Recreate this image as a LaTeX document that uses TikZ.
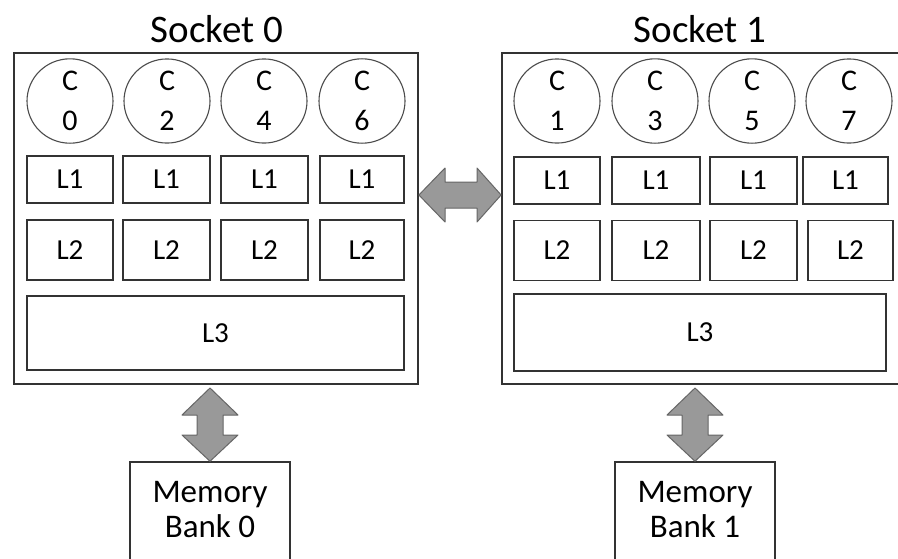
\documentclass[tikz,border=0pt]{standalone}
\usepackage{fontspec}
\setmainfont{Carlito}
\usetikzlibrary{shapes.geometric}
\begin{document}
\begin{tikzpicture}[x=1pt,y=-1pt,
  sockbox/.style={draw=black!80,line width=1.8pt,fill=white,rectangle,inner sep=0pt},
  cachebox/.style={draw=black!80,line width=1.5pt,fill=white,rectangle,inner sep=0pt,font=\fontsize{29}{31}\selectfont},
  corebox/.style={draw=black!70,line width=1.1pt,ellipse,inner sep=0pt,minimum width=86pt,minimum height=76pt,align=center,font=\fontsize{30}{40}\selectfont},
  membox/.style={draw=black!80,line width=1.5pt,fill=white,rectangle,inner sep=0pt,minimum width=160pt,minimum height=110pt},
  memtext/.style={font=\fontsize{33}{35}\selectfont,align=center,inner sep=0pt},
  bigarrow/.style={fill=black!40,draw=black!60,line width=1pt,line join=round},
  title/.style={font=\fontsize{39}{41}\selectfont,inner sep=0pt}
]
\useasboundingbox (0,0) rectangle (898,558);
\clip (0,0) rectangle (898,558);
\fill[white] (0,0) rectangle (898,558);
% sockets
\node[sockbox,minimum width=404pt,minimum height=331pt] (s0) at (216,218.5) {};
\node[sockbox,minimum width=404pt,minimum height=331pt] (s1) at (704,218.5) {};
\node[title] (t0) at (217,29) {Socket 0};
\node[title] (t1) at (700,29) {Socket 1};
% cores socket 0
\node[corebox] (c0) at (70,101) {C\\0};
\node[corebox] (c2) at (167,101) {C\\2};
\node[corebox] (c4) at (264,101) {C\\4};
\node[corebox] (c6) at (362,101) {C\\6};
% cores socket 1
\node[corebox] (c1) at (557,101) {C\\1};
\node[corebox] (c3) at (655,101) {C\\3};
\node[corebox] (c5) at (752,101) {C\\5};
\node[corebox] (c7) at (849,101) {C\\7};
% L1 socket 0
\node[cachebox,minimum width=86pt,minimum height=47pt] (a1) at (70,179.5) {L1};
\node[cachebox,minimum width=87pt,minimum height=47pt] (a2) at (166.5,179.5) {L1};
\node[cachebox,minimum width=87pt,minimum height=47pt] (a3) at (264.5,179.5) {L1};
\node[cachebox,minimum width=84pt,minimum height=47pt] (a4) at (362,179.5) {L1};
% L1 socket 1
\node[cachebox,minimum width=86pt,minimum height=47pt] (b1) at (557,180.5) {L1};
\node[cachebox,minimum width=88pt,minimum height=47pt] (b2) at (656,180.5) {L1};
\node[cachebox,minimum width=87pt,minimum height=47pt] (b3) at (753.5,180.5) {L1};
\node[cachebox,minimum width=85pt,minimum height=47pt] (b4) at (845.5,180.5) {L1};
% L2 socket 0
\node[cachebox,minimum width=86pt,minimum height=60pt] (a5) at (70,250) {L2};
\node[cachebox,minimum width=87pt,minimum height=60pt] (a6) at (166.5,250) {L2};
\node[cachebox,minimum width=87pt,minimum height=60pt] (a7) at (264.5,250) {L2};
\node[cachebox,minimum width=84pt,minimum height=60pt] (a8) at (362,250) {L2};
% L2 socket 1
\node[cachebox,minimum width=86pt,minimum height=60pt] (b5) at (557,250.5) {L2};
\node[cachebox,minimum width=88pt,minimum height=60pt] (b6) at (656,250.5) {L2};
\node[cachebox,minimum width=87pt,minimum height=60pt] (b7) at (753.5,250.5) {L2};
\node[cachebox,minimum width=85pt,minimum height=60pt] (b8) at (850.5,250.5) {L2};
% L3
\node[cachebox,minimum width=377pt,minimum height=74pt] (l30) at (215.5,333) {L3};
\node[cachebox,minimum width=372pt,minimum height=77pt] (l31) at (700,332.5) {L3};
% memory
\node[membox] (m0) at (210,517) {};
\node[memtext] (m0t) at (210,510) {Memory\\Bank 0};
\node[membox] (m1) at (695,517) {};
\node[memtext] (m1t) at (695,510) {Memory\\Bank 1};
% horizontal double arrow between sockets
\draw[bigarrow] (s0.east |- 0,195) -- (445,168) -- (445,182) -- (477,182) -- (477,168)
  -- (s1.west |- 0,195) -- (477,222) -- (477,208) -- (445,208) -- (445,222) -- cycle;
% vertical arrows to memory
\draw[bigarrow] (210,388) -- (238,415) -- (223,415) -- (223,435) -- (238,435)
  -- (m0.north) -- (182,435) -- (197,435) -- (197,415) -- (182,415) -- cycle;
\draw[bigarrow] (695,388) -- (723,415) -- (708,415) -- (708,435) -- (723,435)
  -- (m1.north) -- (667,435) -- (682,435) -- (682,415) -- (667,415) -- cycle;
\end{tikzpicture}
\end{document}
